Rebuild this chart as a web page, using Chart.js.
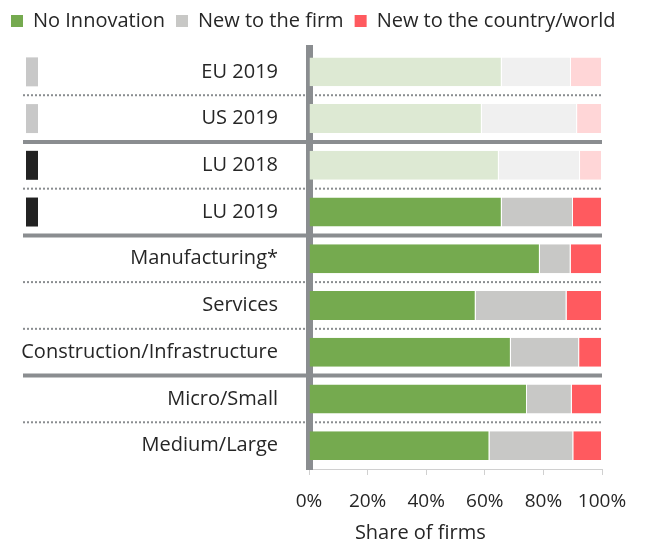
<!DOCTYPE html>
<html><head><meta charset="utf-8">
<script src="https://cdn.jsdelivr.net/npm/chart.js@4.4.1/dist/chart.umd.min.js"></script>
<style>html,body{margin:0;padding:0;background:#fff}#wrap{width:645px;height:544px;position:relative}</style>
</head><body><div id="wrap"><canvas id="c"></canvas></div>
<script>
const categories = ['EU 2019','US 2019','LU 2018','LU 2019','Manufacturing*','Services','Construction/Infrastructure','Micro/Small','Medium/Large'];
const noInnovation = [65.8, 59.0, 64.8, 65.8, 78.8, 56.9, 68.9, 74.4, 61.6];
const newToFirm    = [23.6, 32.5, 27.7, 24.3, 10.5, 31.0, 23.3, 15.3, 28.6];
const newToCountry = [10.6,  8.5,  7.5,  9.9, 10.7, 12.1,  7.8, 10.3,  9.8];
const seriesNames = ['No Innovation','New to the firm','New to the country/world'];
const xTickValues = [0, 20, 40, 60, 80, 100];
const xTitle = 'Share of firms';
const markerKind = ['bench','bench','lu','lu','','','','',''];
const groupBreaks = [1, 3, 6];
const fadedRows = 3;

const FONT = "'Open Sans', sans-serif";
const colors = {
  full: ['#75aa4f', '#c8c8c6', '#ff5a5f'],
  faded: ['#dde9d3', '#f0f0f0', '#ffd6d7']
};
const markerColors = { bench: '#c8c8c8', lu: '#222222' };
const lineGray = '#8a8d90';
const textColor = '#262626';

function bg(k) {
  return ctx => (ctx.type === 'data' && ctx.dataIndex < fadedRows) ? colors.faded[k] : colors.full[k];
}

const decor = {
  id: 'decor',
  afterInit(chart) {
    const lg = chart.legend;
    if (lg && !lg._patched) {
      const origFit = lg.fit;
      lg.fit = function () { this.maxWidth = this.chart.width; origFit.call(this); this.height += 7.5; };
      const origDraw = lg.draw;
      lg.draw = function () { this.right = this.chart.width; this.width = this.right - this.left; origDraw.call(this); };
      lg._patched = true;
    }
  },
  beforeDatasetsDraw(chart) {
    const { ctx, chartArea: a, scales: { y } } = chart;
    const meta = chart.getDatasetMeta(0);
    ctx.save();
    for (let i = 0; i < categories.length - 1; i++) {
      const yy = (y.getPixelForValue(i) + y.getPixelForValue(i + 1)) / 2;
      const solid = groupBreaks.includes(i);
      ctx.beginPath();
      ctx.strokeStyle = lineGray;
      ctx.lineWidth = solid ? 4 : 2;
      ctx.setLineDash(solid ? [] : [2, 2]);
      ctx.moveTo(23, yy); ctx.lineTo(a.right, yy); ctx.stroke();
    }
    ctx.setLineDash([]);
    categories.forEach((c, i) => {
      const col = markerColors[markerKind[i]];
      if (!col) return;
      const bar = meta.data[i];
      ctx.fillStyle = col;
      ctx.fillRect(26, bar.y - bar.height / 2, 12, bar.height);
    });
    ctx.fillStyle = textColor;
    ctx.font = "20px " + FONT;
    ctx.textAlign = 'center';
    ctx.textBaseline = 'middle';
    ctx.fillText(xTitle, a.left + a.width * 0.38, 533);
    ctx.restore();
  }
};

new Chart(document.getElementById('c'), {
  type: 'bar',
  data: {
    labels: categories,
    datasets: [
      { label: seriesNames[0], data: noInnovation, backgroundColor: bg(0) },
      { label: seriesNames[1], data: newToFirm, backgroundColor: bg(1) },
      { label: seriesNames[2], data: newToCountry, backgroundColor: bg(2) }
    ]
  },
  options: {
    indexAxis: 'y',
    responsive: true,
    maintainAspectRatio: false,
    animation: false,
    datasets: { bar: { barPercentage: 0.62, categoryPercentage: 1, borderColor: '#ffffff', borderWidth: { right: 1, left: 0, top: 0, bottom: 0 }, borderSkipped: false } },
    layout: { padding: { left: 0, right: 43, top: 0, bottom: 0 } },
    plugins: {
      legend: {
        position: 'top', align: 'start',
        labels: {
          boxWidth: 12, boxHeight: 12, padding: 11, color: textColor, font: { family: FONT, size: 20 },
          generateLabels: chart => Chart.defaults.plugins.legend.labels.generateLabels(chart).map((l, i) => Object.assign(l, { fillStyle: colors.full[i], strokeStyle: colors.full[i], lineWidth: 0 }))
        }
      },
      tooltip: { enabled: false }
    },
    scales: {
      x: {
        stacked: true, min: 0, max: 100,
        afterBuildTicks: s => { s.ticks = xTickValues.map(v => ({ value: v })); },
        ticks: { callback: v => v + '%', color: textColor, padding: 15, maxRotation: 0, font: { family: FONT, size: 19 } },
        grid: { drawOnChartArea: false, drawTicks: true, tickLength: 6, color: '#d0d0d0' },
        border: { display: true, color: '#d0d0d0', width: 1 },
        afterFit: s => { s.height = 75; }
      },
      y: {
        stacked: true, z: 1,
        ticks: { color: textColor, padding: 31, font: { family: FONT, size: 20 } },
        grid: { display: false, drawTicks: false },
        border: { display: true, color: lineGray, width: 7 },
        afterFit: s => { s.width = 309; }
      }
    }
  },
  plugins: [decor]
});
</script>
</body></html>
